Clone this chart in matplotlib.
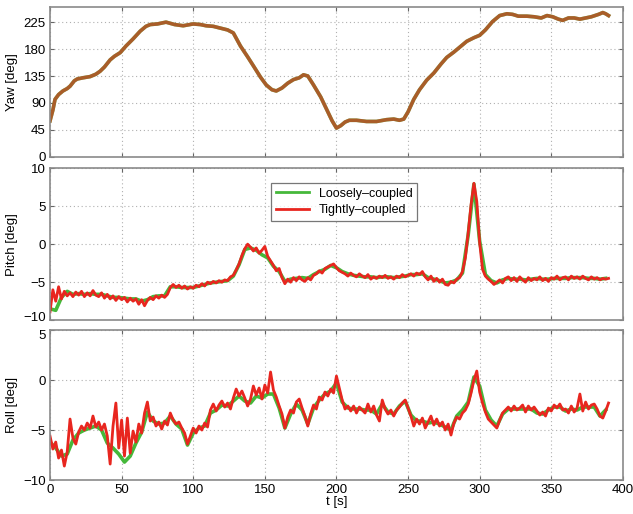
import numpy as np
import matplotlib
matplotlib.use("Agg")
import matplotlib.pyplot as plt
import matplotlib.transforms as mtransforms

# ---------------- data ----------------
yaw_t = [0, 2, 3.5, 6, 9, 12, 14, 17, 19, 23, 28, 32, 35, 38, 42, 45, 49, 53, 58, 63,
         67, 70, 75, 81, 87, 93, 100, 105, 109, 114, 119, 124, 128, 133, 138, 142, 147,
         151, 155, 158, 162, 166, 170, 174, 177, 180, 184, 189, 193, 197, 200, 203, 206,
         209, 214, 221, 228, 235, 240, 244, 247, 250, 254, 258, 263, 268, 273, 277, 282,
         287, 291, 296, 300, 304, 309, 314, 319, 323, 327, 333, 338, 343, 347, 351, 355,
         358, 362, 366, 370, 374, 378, 383, 386, 388, 390]
yaw_tc = [60, 78, 96, 104, 110, 114, 118, 127, 130, 132, 134, 138, 143, 150, 162, 168, 174,
          185, 197, 210, 218, 221, 222, 225, 221, 219, 222, 221, 219, 218, 215, 212, 207,
          185, 167, 152, 133, 120, 112, 110, 115, 123, 129, 132, 137, 135, 120, 100, 80, 60,
          48, 52, 58, 61, 61, 59, 59, 62, 63, 61, 63, 75, 96, 112, 128, 140, 155, 166, 175,
          185, 193, 199, 203, 212, 226, 236, 239, 238, 235, 235, 234, 232, 236, 234, 230,
          228, 232, 232, 230, 232, 234, 238, 241, 239, 236]
yaw_lc = list(yaw_tc)

step_tc = 2.0   # sample spacing [s] of the tightly-coupled series
step_lc = 4.0   # sample spacing [s] of the loosely-coupled series

pitch_tc = [
    -8.9, -6.0, -7.5, -5.6, -7.2, -6.2, -6.8, -6.4, -6.9, -6.3,
    -6.7, -6.2, -6.9, -6.4, -6.8, -6.1, -6.7, -6.9, -6.4, -7.1,
    -6.6, -7.2, -6.8, -7.4, -6.9, -7.3, -7.0, -7.6, -7.1, -7.5,
    -7.2, -7.9, -7.3, -8.1, -7.4, -7.0, -7.3, -6.8, -7.1, -6.7,
    -7.0, -6.6, -5.7, -5.3, -5.7, -5.4, -5.8, -5.5, -5.9, -5.6,
    -5.8, -5.4, -5.6, -5.2, -5.5, -5.0, -5.2, -4.9, -5.1, -4.8,
    -5.0, -4.7, -4.8, -4.3, -4.1, -3.4, -2.6, -1.5, -0.6, 0.0,
    -0.4, -0.9, -0.5, -1.2, -0.8, -0.3, -1.6, -2.2, -2.8, -3.5,
    -3.2, -4.4, -5.2, -4.6, -5.0, -4.4, -4.8, -4.3, -4.7, -4.9,
    -4.4, -4.7, -4.1, -3.9, -3.5, -3.8, -3.2, -3.0, -2.8, -2.6,
    -3.1, -3.5, -3.7, -3.9, -4.2, -3.8, -4.1, -4.3, -3.9, -4.2,
    -4.4, -4.0, -4.6, -4.3, -4.5, -4.2, -4.4, -4.1, -4.5, -4.3,
    -4.6, -4.2, -4.4, -4.0, -4.3, -4.1, -3.9, -4.2, -3.8, -4.0,
    -3.6, -4.3, -4.7, -4.2, -4.9, -4.5, -5.0, -4.6, -5.3, -5.4,
    -4.9, -5.1, -4.6, -4.4, -3.6, -1.8, 1.5, 5.2, 8.0, 5.6,
    0.2, -3.3, -4.2, -4.6, -4.9, -5.3, -5.0, -4.7, -5.1, -4.5,
    -4.3, -4.8, -4.4, -4.9, -4.3, -4.7, -5.0, -4.4, -4.8, -4.5,
    -4.7, -4.3, -4.8, -4.5, -4.9, -4.4, -4.6, -4.2, -4.7, -4.4,
    -4.3, -4.7, -4.2, -4.5, -4.3, -4.6, -4.2, -4.5, -4.7, -4.3,
    -4.6, -4.4, -4.7, -4.5, -4.6, -4.5]
pitch_lc = [
    -8.5, -8.7, -7.0, -6.2, -6.6, -6.5, -6.6, -6.5, -6.6, -6.6,
    -6.8, -7.0, -7.0, -7.1, -7.2, -7.2, -7.5, -7.3, -6.9, -6.8,
    -6.8, -5.6, -5.6, -5.7, -5.7, -5.7, -5.5, -5.3, -5.1, -5.0,
    -4.9, -4.8, -4.2, -2.7, -0.7, -0.5, -0.8, -1.4, -1.8, -2.9,
    -3.6, -4.9, -4.6, -4.5, -4.4, -4.5, -4.0, -3.6, -3.3, -2.8,
    -3.1, -3.6, -3.9, -4.1, -4.2, -4.3, -4.3, -4.4, -4.3, -4.3,
    -4.4, -4.3, -4.2, -4.0, -4.0, -3.9, -4.4, -4.6, -4.8, -5.1,
    -5.0, -4.7, -3.8, 1.2, 7.9, 0.4, -4.0, -4.8, -5.1, -4.7,
    -4.5, -4.6, -4.6, -4.7, -4.6, -4.5, -4.6, -4.6, -4.5, -4.5,
    -4.5, -4.4, -4.4, -4.4, -4.5, -4.5, -4.6, -4.5]

roll_tc = [
    -5.6, -6.9, -6.2, -7.8, -7.0, -8.6, -7.2, -3.9, -5.8, -6.4,
    -5.2, -4.6, -5.0, -4.3, -4.8, -3.6, -4.7, -4.2, -5.0, -4.4,
    -5.6, -8.4, -4.6, -2.3, -6.8, -4.0, -7.6, -3.8, -7.3, -5.1,
    -6.2, -4.4, -5.3, -3.3, -2.2, -4.1, -3.7, -4.6, -4.2, -4.9,
    -4.1, -4.5, -3.3, -4.0, -4.4, -4.2, -4.8, -5.3, -6.4, -5.6,
    -4.8, -5.3, -4.6, -5.0, -4.3, -4.7, -3.0, -2.4, -3.1, -2.5,
    -2.1, -2.7, -2.3, -2.9, -1.8, -0.9, -1.6, -1.1, -1.8, -2.6,
    -1.9, -0.6, -1.5, -0.8, -1.9, -0.5, -1.3, 0.8, -1.0, -1.7,
    -2.6, -3.4, -4.8, -3.7, -3.0, -3.3, -2.2, -1.9, -2.8, -3.6,
    -4.6, -3.4, -2.5, -2.9, -1.7, -2.0, -1.2, -1.6, -0.9, -1.3,
    0.4, -0.8, -2.0, -2.9, -2.6, -3.1, -2.6, -3.3, -2.7, -3.0,
    -3.3, -2.4, -3.2, -2.6, -3.5, -4.1, -2.0, -2.9, -3.4, -3.0,
    -3.6, -3.0, -2.7, -2.3, -2.0, -2.8, -3.6, -4.6, -3.9, -4.4,
    -3.8, -4.8, -4.2, -3.6, -4.5, -3.9, -4.6, -4.2, -5.0, -4.4,
    -5.5, -4.3, -3.7, -3.9, -3.3, -3.0, -2.4, -1.3, 0.0, 0.9,
    -1.2, -2.3, -3.2, -3.9, -4.2, -4.5, -4.8, -4.0, -3.3, -3.0,
    -2.7, -3.1, -2.6, -3.0, -2.8, -2.5, -3.2, -2.6, -3.0, -2.7,
    -3.1, -3.5, -3.2, -3.6, -2.8, -3.1, -2.5, -2.8, -2.4, -3.0,
    -2.9, -3.3, -2.6, -3.2, -2.8, -1.4, -3.1, -2.2, -2.9, -2.5,
    -2.4, -2.9, -3.6, -3.8, -3.1, -2.3]
roll_lc = [
    -6.2, -6.8, -7.6, -7.4, -6.0, -5.3, -5.0, -4.8, -4.6, -5.0,
    -6.3, -6.8, -7.4, -8.2, -7.6, -6.3, -5.2, -3.2, -4.1, -4.4,
    -4.3, -3.6, -4.4, -4.9, -6.5, -5.3, -4.8, -4.6, -3.3, -3.0,
    -2.5, -2.6, -2.1, -1.6, -2.1, -2.3, -1.6, -1.8, -1.4, -1.4,
    -2.8, -4.8, -3.4, -2.4, -3.0, -4.4, -2.8, -2.0, -1.4, -1.1,
    -0.3, -2.2, -2.8, -2.9, -2.9, -3.0, -3.0, -3.4, -2.4, -3.2,
    -3.4, -2.6, -2.1, -3.5, -4.1, -4.1, -4.3, -4.2, -4.4, -4.7,
    -5.0, -3.6, -3.0, -2.2, 0.3, -0.6, -3.0, -4.0, -4.6, -3.4,
    -2.9, -2.9, -2.9, -2.9, -2.9, -3.3, -3.4, -3.0, -2.7, -2.7,
    -3.1, -2.9, -3.0, -2.7, -2.7, -2.7, -3.6, -3.0]

series_names = ["Loosely\u2013coupled", "Tightly\u2013coupled"]
x_ticks = [0, 50, 100, 150, 200, 250, 300, 350, 400]
yaw_ticks = [0, 45, 90, 135, 180, 225]
pitch_ticks = [-10, -5, 0, 5, 10]
roll_ticks = [-10, -5, 0, 5]

# ---------------- styling ----------------
plt.rcParams['font.family'] = ['Liberation Sans', 'DejaVu Sans']
plt.rcParams['font.size'] = 9.5
GREEN = '#45b83a'
RED = '#e8261f'

fig = plt.figure(figsize=(6.33, 5.14), dpi=100)
L, W = 0.079, 0.905
ax1 = fig.add_axes([L, 0.695, W, 0.291])
ax2 = fig.add_axes([L, 0.377, W, 0.296])
ax3 = fig.add_axes([L, 0.066, W, 0.292])

t_pitch_tc = np.arange(len(pitch_tc)) * step_tc
t_pitch_lc = np.arange(len(pitch_lc)) * step_lc
t_roll_tc = np.arange(len(roll_tc)) * step_tc
t_roll_lc = np.arange(len(roll_lc)) * step_lc

ax1.plot(yaw_t, yaw_lc, color=GREEN, lw=2.6)
ax1.plot(yaw_t, yaw_tc, color=RED, lw=2.6, alpha=0.62)

ax2.plot(t_pitch_lc, pitch_lc, color=GREEN, lw=2.6, label=series_names[0])
ax2.plot(t_pitch_tc, pitch_tc, color=RED, lw=2.0, label=series_names[1])

ax3.plot(t_roll_lc, roll_lc, color=GREEN, lw=2.6)
ax3.plot(t_roll_tc, roll_tc, color=RED, lw=2.0)

for ax, yt, lab, ylim in [(ax1, yaw_ticks, "Yaw [deg]", (0, 250)),
                          (ax2, pitch_ticks, "Pitch [deg]", (-10, 10)),
                          (ax3, roll_ticks, "Roll [deg]", (-10, 5))]:
    ax.set_xlim(0, 400)
    ax.set_ylim(*ylim)
    ax.set_xticks(x_ticks)
    ax.set_yticks(yt)
    ax.set_ylabel(lab, labelpad=4)
    ax.grid(True, color='#b0b0b0', linestyle=(0, (1, 2.5)), linewidth=0.8)
    ax.tick_params(direction='in', top=True, right=True, length=3, color='#666666',
                   labelsize=9.5, pad=3)
    for s in ax.spines.values():
        s.set_color('#8a8a8a')
        s.set_linewidth(1.2)

ax1.tick_params(labelbottom=False)
ax2.tick_params(labelbottom=False)
ax3.set_xlabel("t [s]", labelpad=0)

# nudge the touching edge labels apart (-10 of pitch / 5 of roll)
up = mtransforms.ScaledTranslation(0, 3 / 72, fig.dpi_scale_trans)
down = mtransforms.ScaledTranslation(0, -3 / 72, fig.dpi_scale_trans)
ax2.get_yticklabels()[0].set_transform(ax2.get_yticklabels()[0].get_transform() + up)
ax3.get_yticklabels()[-1].set_transform(ax3.get_yticklabels()[-1].get_transform() + down)

leg = ax2.legend(loc='upper left', bbox_to_anchor=(0.375, 0.945), fontsize=9,
                 frameon=True, fancybox=False, edgecolor='#555555',
                 handlelength=2.6, borderpad=0.4, labelspacing=0.35)
leg.get_frame().set_linewidth(0.9)
for h in leg.get_lines():
    h.set_linewidth(2)
    h.set_alpha(1)

fig.savefig("out.png", dpi=100)
